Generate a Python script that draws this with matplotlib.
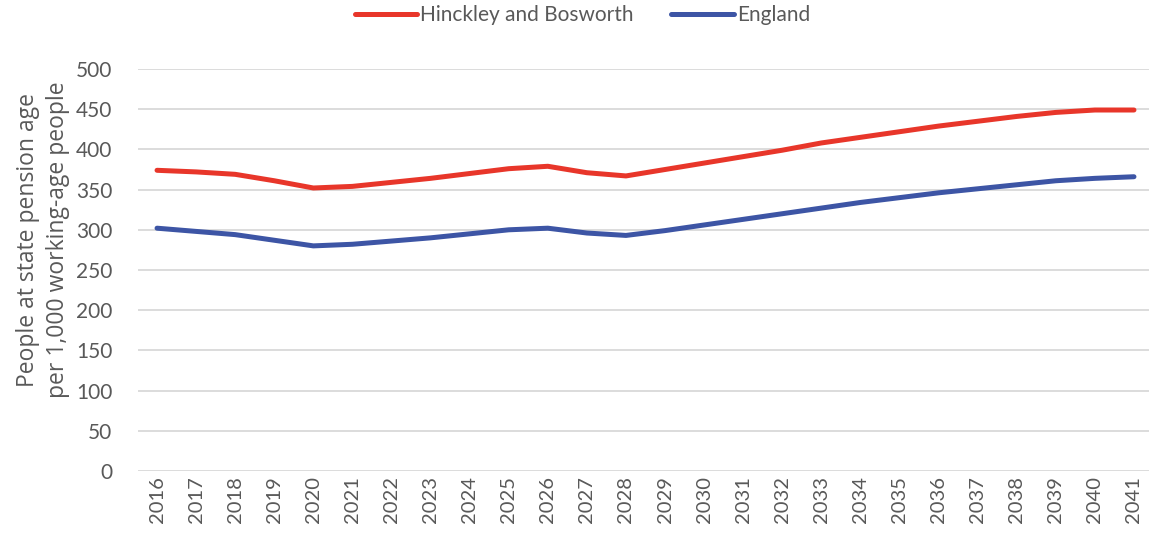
"""
Old-age dependency ratio: Hinckley and Bosworth vs England
"""
import matplotlib
matplotlib.use('Agg')
import matplotlib.pyplot as plt

years = list(range(2016, 2042))
hinckley = [374, 372, 369, 361, 352, 354, 359, 364, 370, 376, 379, 371, 367,
            375, 383, 391, 399, 408, 415, 422, 429, 435, 441, 446, 449, 449]
england = [302, 298, 294, 287, 280, 282, 286, 290, 295, 300, 302, 296, 293,
           299, 306, 313, 320, 327, 334, 340, 346, 351, 356, 361, 364, 366]

RED = '#E8362A'
BLUE = '#3D55A5'
TEXT = '#595959'
GRID = '#D9D9D9'

fig = plt.figure(figsize=(11.49, 5.41), dpi=100)
ax = fig.add_axes([137.5 / 1149, 70 / 541, 1016 / 1149, 402 / 541])

x = list(range(len(years)))
ax.plot(x, hinckley, color=RED, lw=3.6, solid_capstyle='round', label='Hinckley and Bosworth')
ax.plot(x, england, color=BLUE, lw=3.6, solid_capstyle='round', label='England')

ax.set_xlim(-0.5, len(years) - 0.5)
ax.set_ylim(0, 500)
ax.set_yticks(range(0, 501, 50))
ax.yaxis.grid(True, color=GRID, lw=1.3)
ax.set_axisbelow(True)
for s in ax.spines.values():
    s.set_visible(False)
ax.tick_params(axis='both', length=0, colors=TEXT, labelsize=15)
ax.tick_params(axis='y', pad=18)
ax.set_xticks(x)
ax.set_xticklabels([str(y) for y in years], rotation=90, fontsize=14.5)
for lab in ax.get_xticklabels() + ax.get_yticklabels():
    lab.set_family('Lato')
    lab.set_color(TEXT)

ax.set_ylabel('People at state pension age\nper 1,000 working-age people',
              fontsize=16.5, color=TEXT, family='Open Sans', linespacing=1.35)
ax.yaxis.set_label_coords(-0.066, 0.575)

leg = fig.legend(loc='upper center', bbox_to_anchor=(0.507, 1.025), ncol=2, frameon=False,
                 prop={'family': 'Lato', 'size': 15}, handlelength=3.0,
                 handletextpad=0.15, columnspacing=1.8)
for t in leg.get_texts():
    t.set_color(TEXT)

fig.savefig('out.png', dpi=100)
